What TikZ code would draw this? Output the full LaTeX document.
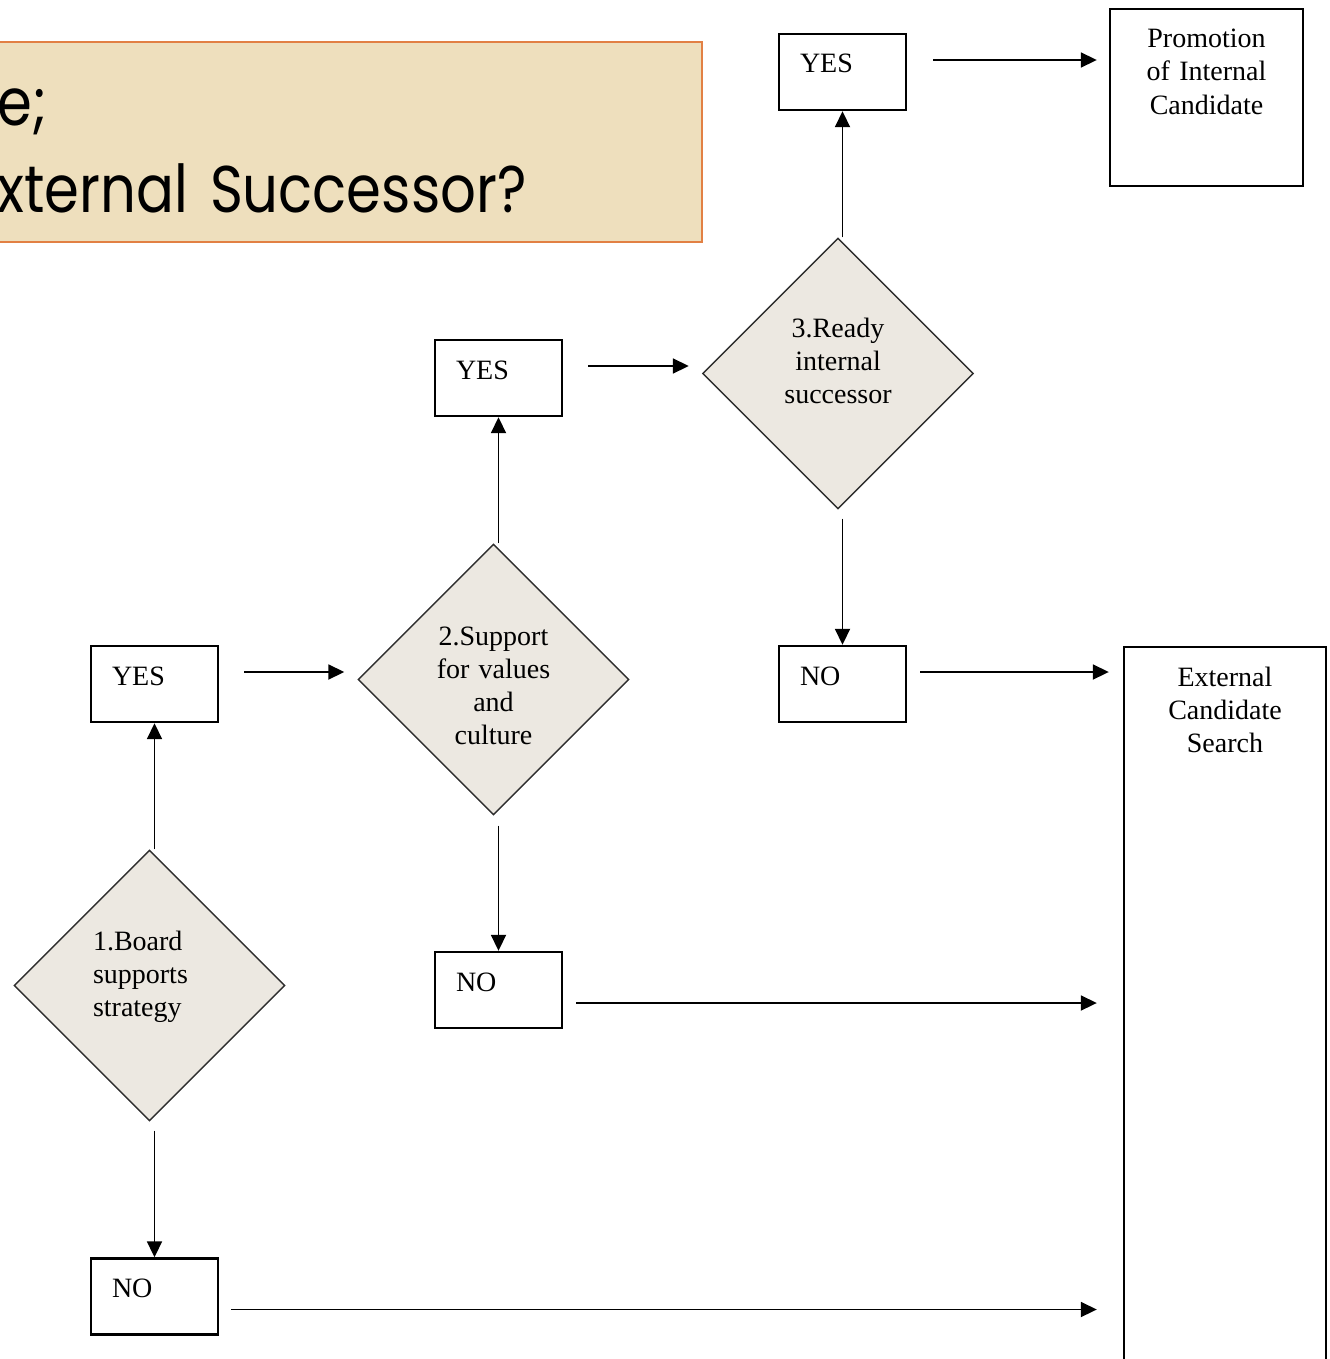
\documentclass[tikz,border=0pt]{standalone}
\usepackage{fontspec}
\setmainfont{Liberation Serif}
\newfontfamily\bannerfont[FakeStretch=0.85]{Poppins}
\usepackage{tikz}
\usetikzlibrary{positioning,arrows.meta,shapes.geometric}
\definecolor{bannerfill}{RGB}{238,223,189}
\definecolor{bannerline}{RGB}{226,128,68}
\definecolor{diamondfill}{RGB}{236,232,225}
\definecolor{diamondline}{RGB}{45,45,45}
\tikzset{
  banner/.style={draw=bannerline,fill=bannerfill,line width=0.8pt,
    minimum width=361.5pt,minimum height=100pt,inner sep=0pt},
  bannertext/.style={font=\bannerfont\fontsize{33}{43.5}\selectfont,
    text width=320pt,align=left,anchor=base west,inner sep=0pt},
  answer/.style={draw,line width=1.2pt,fill=white,text width=42.5pt,
    inner xsep=10.5pt,inner ysep=0pt,text height=19.5pt,text depth=18.5pt,
    align=left,font=\fontsize{14}{16.5}\selectfont},
  outcome/.style={draw,line width=1.2pt,fill=white,inner xsep=0pt,
    inner ysep=0pt,align=center,text height=19.5pt,
    font=\fontsize{14}{16.5}\selectfont},
  decision/.style={diamond,draw=diamondline,fill=diamondfill,line width=0.7pt,
    minimum width=135.5pt,minimum height=135.5pt,inner sep=0pt,
    text width=60pt,align=center,text height=10pt,text depth=45pt,
    font=\fontsize{14}{16.5}\selectfont},
  flow/.style={-{Triangle[length=8pt,width=7.5pt]},line width=0.9pt},
}
\begin{document}
\begin{tikzpicture}[x=0.5pt,y=-0.5pt]
  \useasboundingbox (0,0) rectangle (1329,1359);
  % title banner (cut at the left edge)
  \node[banner,anchor=east] (banner) at (703,142) {};
  \node[bannertext] (bannerlines) at (-3,126) {e;\\xternal Successor?};

  % decisions
  \node[decision,text width=56.5pt,align=left] (d1) at (149.5,985.5)
    {1.Board\\supports\\strategy};
  \node[decision,text depth=44pt] (d2) at (493.5,679.5)
    {2.Support\\for values\\and\\culture};
  \node[decision,text depth=46pt] (d3) at (838,373.5)
    {3.Ready\\internal\\successor};

  % answers
  \node[answer] (yes1) at (154.5,684) {YES};
  \node[answer] (no1)  at (154.5,1296.5) {NO};
  \node[answer] (yes2) at (498.5,378) {YES};
  \node[answer] (no2)  at (498.5,990) {NO};
  \node[answer] (yes3) at (842.5,72) {YES};
  \node[answer] (no3)  at (842.5,684) {NO};

  % outcomes
  \node[outcome,text width=96.5pt,text depth=69pt] (promo) at (1206.5,97.5)
    {Promotion\\of Internal\\Candidate};
  \node[outcome,text width=101pt,text depth=352.5pt,anchor=north] (ext)
    at (1225,646) {External\\Candidate\\Search};

  % connectors
  \draw[flow] (d1.north -| yes1.south) -- (yes1.south);
  \draw[flow,shorten <=4.5pt] (d1.south -| no1.north) -- (no1.north);
  \draw[flow,shorten <=12.5pt,shorten >=6.5pt]
    ([yshift=6pt]yes1.east) -- ([yshift=6pt]yes1.east -| d2.west);
  \draw[flow] (d2.north -| yes2.south) -- (yes2.south);
  \draw[flow,shorten <=5pt] (d2.south -| no2.north) -- (no2.north);
  \draw[flow,shorten <=12.5pt,shorten >=6.5pt]
    ([yshift=6pt]yes2.east) -- ([yshift=6pt]yes2.east -| d3.west);
  \draw[flow] (d3.north -| yes3.south) -- (yes3.south);
  \draw[flow,shorten <=4.5pt] (d3.south -| no3.north) -- (no3.north);
  \draw[flow,shorten <=13pt,shorten >=6pt]
    ([yshift=6pt]yes3.east) -- ([yshift=6pt]yes3.east -| promo.west);
  \draw[flow,shorten <=6.5pt,shorten >=7pt]
    ([yshift=6pt]no3.east) -- ([yshift=6pt]no3.east -| ext.west);
  \draw[flow,shorten <=6.5pt,shorten >=13pt]
    ([yshift=-6.5pt]no2.east) -- ([yshift=-6.5pt]no2.east -| ext.west);
  \draw[flow,shorten <=6pt,shorten >=13pt]
    ([yshift=-6.5pt]no1.east) -- ([yshift=-6.5pt]no1.east -| ext.west);
\end{tikzpicture}
\end{document}
